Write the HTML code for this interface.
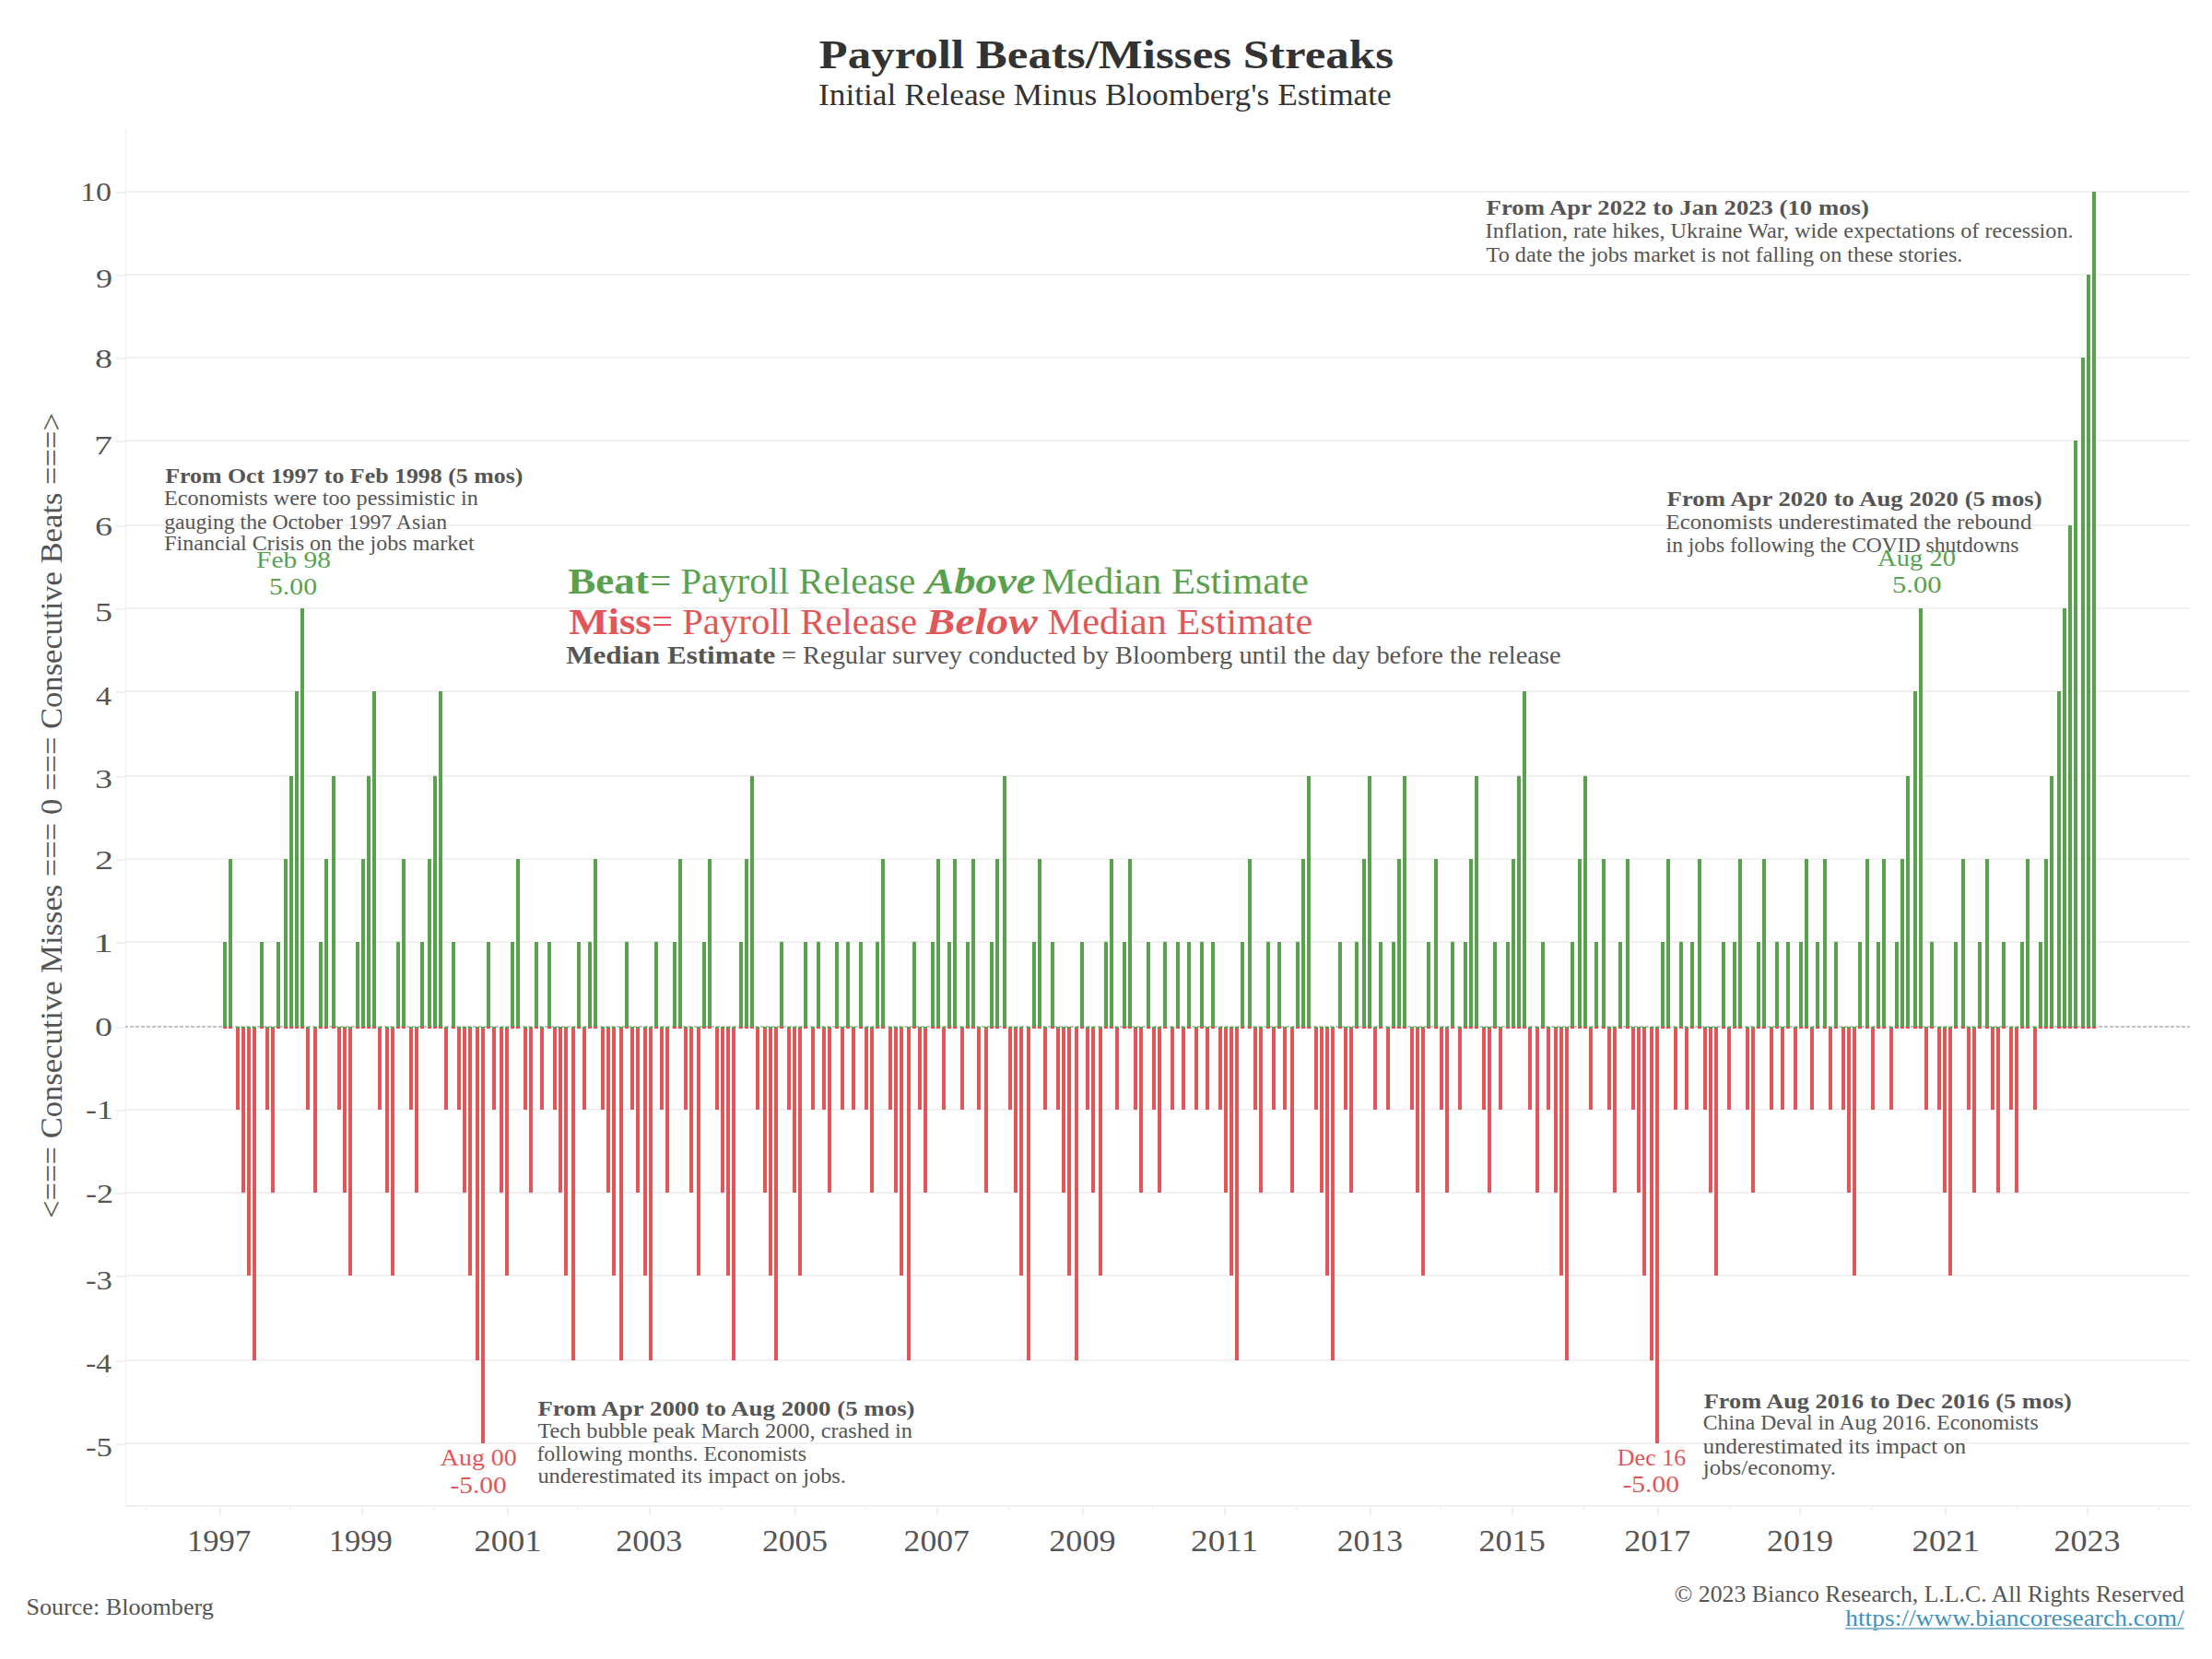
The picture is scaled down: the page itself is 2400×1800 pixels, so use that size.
<!DOCTYPE html><html><head><meta charset="utf-8"><title>Payroll Beats/Misses Streaks</title>
<style>html,body{margin:0;padding:0;background:#fff;}svg{display:block;}text{font-family:"Liberation Serif",serif;}</style></head><body>
<svg width="2400" height="1800" viewBox="0 0 2400 1800" shape-rendering="crispEdges">
<rect x="0" y="0" width="2400" height="1800" fill="#fff"/>
<rect x="136" y="1565" width="2240" height="2" fill="#F0F0F0"/>
<rect x="126" y="1566" width="10" height="2" fill="#F0F0F0"/>
<rect x="136" y="1475" width="2240" height="2" fill="#F0F0F0"/>
<rect x="126" y="1476" width="10" height="2" fill="#F0F0F0"/>
<rect x="136" y="1383" width="2240" height="2" fill="#F0F0F0"/>
<rect x="126" y="1384" width="10" height="2" fill="#F0F0F0"/>
<rect x="136" y="1293" width="2240" height="2" fill="#F0F0F0"/>
<rect x="126" y="1294" width="10" height="2" fill="#F0F0F0"/>
<rect x="136" y="1203" width="2240" height="2" fill="#F0F0F0"/>
<rect x="126" y="1204" width="10" height="2" fill="#F0F0F0"/>
<rect x="136" y="1021" width="2240" height="2" fill="#F0F0F0"/>
<rect x="126" y="1022" width="10" height="2" fill="#F0F0F0"/>
<rect x="136" y="931" width="2240" height="2" fill="#F0F0F0"/>
<rect x="126" y="932" width="10" height="2" fill="#F0F0F0"/>
<rect x="136" y="841" width="2240" height="2" fill="#F0F0F0"/>
<rect x="126" y="842" width="10" height="2" fill="#F0F0F0"/>
<rect x="136" y="749" width="2240" height="2" fill="#F0F0F0"/>
<rect x="126" y="750" width="10" height="2" fill="#F0F0F0"/>
<rect x="136" y="659" width="2240" height="2" fill="#F0F0F0"/>
<rect x="126" y="660" width="10" height="2" fill="#F0F0F0"/>
<rect x="136" y="569" width="2240" height="2" fill="#F0F0F0"/>
<rect x="126" y="570" width="10" height="2" fill="#F0F0F0"/>
<rect x="136" y="477" width="2240" height="2" fill="#F0F0F0"/>
<rect x="126" y="478" width="10" height="2" fill="#F0F0F0"/>
<rect x="136" y="387" width="2240" height="2" fill="#F0F0F0"/>
<rect x="126" y="388" width="10" height="2" fill="#F0F0F0"/>
<rect x="136" y="297" width="2240" height="2" fill="#F0F0F0"/>
<rect x="126" y="298" width="10" height="2" fill="#F0F0F0"/>
<rect x="136" y="207" width="2240" height="2" fill="#F0F0F0"/>
<rect x="126" y="208" width="10" height="2" fill="#F0F0F0"/>
<rect x="126" y="1114" width="10" height="2" fill="#F0F0F0"/>
<rect x="136" y="140" width="1" height="1495" fill="#F0F0F0"/>
<rect x="136" y="1633" width="2241" height="2" fill="#F0F0F0"/>
<rect x="158" y="1636" width="2" height="2" fill="#F0F0F0"/>
<rect x="238" y="1636" width="2" height="8" fill="#F0F0F0"/>
<rect x="314" y="1636" width="2" height="2" fill="#F0F0F0"/>
<rect x="392" y="1636" width="2" height="8" fill="#F0F0F0"/>
<rect x="470" y="1636" width="2" height="2" fill="#F0F0F0"/>
<rect x="550" y="1636" width="2" height="8" fill="#F0F0F0"/>
<rect x="626" y="1636" width="2" height="2" fill="#F0F0F0"/>
<rect x="704" y="1636" width="2" height="8" fill="#F0F0F0"/>
<rect x="782" y="1636" width="2" height="2" fill="#F0F0F0"/>
<rect x="862" y="1636" width="2" height="8" fill="#F0F0F0"/>
<rect x="938" y="1636" width="2" height="2" fill="#F0F0F0"/>
<rect x="1016" y="1636" width="2" height="8" fill="#F0F0F0"/>
<rect x="1094" y="1636" width="2" height="2" fill="#F0F0F0"/>
<rect x="1174" y="1636" width="2" height="8" fill="#F0F0F0"/>
<rect x="1250" y="1636" width="2" height="2" fill="#F0F0F0"/>
<rect x="1328" y="1636" width="2" height="8" fill="#F0F0F0"/>
<rect x="1406" y="1636" width="2" height="2" fill="#F0F0F0"/>
<rect x="1486" y="1636" width="2" height="8" fill="#F0F0F0"/>
<rect x="1562" y="1636" width="2" height="2" fill="#F0F0F0"/>
<rect x="1640" y="1636" width="2" height="8" fill="#F0F0F0"/>
<rect x="1718" y="1636" width="2" height="2" fill="#F0F0F0"/>
<rect x="1798" y="1636" width="2" height="8" fill="#F0F0F0"/>
<rect x="1876" y="1636" width="2" height="2" fill="#F0F0F0"/>
<rect x="1952" y="1636" width="2" height="8" fill="#F0F0F0"/>
<rect x="2030" y="1636" width="2" height="2" fill="#F0F0F0"/>
<rect x="2110" y="1636" width="2" height="8" fill="#F0F0F0"/>
<rect x="2188" y="1636" width="2" height="2" fill="#F0F0F0"/>
<rect x="2264" y="1636" width="2" height="8" fill="#F0F0F0"/>
<rect x="2342" y="1636" width="2" height="2" fill="#F0F0F0"/>
<line x1="136" y1="1114" x2="2376" y2="1114" stroke="#C4C4C4" stroke-width="2" stroke-dasharray="4 2" stroke-dashoffset="1"/>
<rect x="242" y="1022" width="4" height="92" fill="#59A14F"/>
<rect x="242" y="1114" width="4" height="2" fill="#E44A50"/>
<rect x="248" y="932" width="4" height="182" fill="#59A14F"/>
<rect x="248" y="1114" width="4" height="2" fill="#E44A50"/>
<rect x="256" y="1114" width="4" height="2" fill="#50A34B"/>
<rect x="256" y="1116" width="4" height="88" fill="#E15759"/>
<rect x="262" y="1114" width="4" height="2" fill="#50A34B"/>
<rect x="262" y="1116" width="4" height="178" fill="#E15759"/>
<rect x="268" y="1114" width="4" height="2" fill="#50A34B"/>
<rect x="268" y="1116" width="4" height="268" fill="#E15759"/>
<rect x="274" y="1114" width="4" height="2" fill="#50A34B"/>
<rect x="274" y="1116" width="4" height="360" fill="#E15759"/>
<rect x="282" y="1022" width="4" height="92" fill="#59A14F"/>
<rect x="282" y="1114" width="4" height="2" fill="#E44A50"/>
<rect x="288" y="1114" width="4" height="2" fill="#50A34B"/>
<rect x="288" y="1116" width="4" height="88" fill="#E15759"/>
<rect x="294" y="1114" width="4" height="2" fill="#50A34B"/>
<rect x="294" y="1116" width="4" height="178" fill="#E15759"/>
<rect x="300" y="1022" width="4" height="92" fill="#59A14F"/>
<rect x="300" y="1114" width="4" height="2" fill="#E44A50"/>
<rect x="308" y="932" width="4" height="182" fill="#59A14F"/>
<rect x="308" y="1114" width="4" height="2" fill="#E44A50"/>
<rect x="314" y="842" width="4" height="272" fill="#59A14F"/>
<rect x="314" y="1114" width="4" height="2" fill="#E44A50"/>
<rect x="320" y="750" width="4" height="364" fill="#59A14F"/>
<rect x="320" y="1114" width="4" height="2" fill="#E44A50"/>
<rect x="326" y="660" width="4" height="454" fill="#59A14F"/>
<rect x="326" y="1114" width="4" height="2" fill="#E44A50"/>
<rect x="332" y="1114" width="4" height="2" fill="#50A34B"/>
<rect x="332" y="1116" width="4" height="88" fill="#E15759"/>
<rect x="340" y="1114" width="4" height="2" fill="#50A34B"/>
<rect x="340" y="1116" width="4" height="178" fill="#E15759"/>
<rect x="346" y="1022" width="4" height="92" fill="#59A14F"/>
<rect x="346" y="1114" width="4" height="2" fill="#E44A50"/>
<rect x="352" y="932" width="4" height="182" fill="#59A14F"/>
<rect x="352" y="1114" width="4" height="2" fill="#E44A50"/>
<rect x="360" y="842" width="4" height="272" fill="#59A14F"/>
<rect x="360" y="1114" width="4" height="2" fill="#E44A50"/>
<rect x="366" y="1114" width="4" height="2" fill="#50A34B"/>
<rect x="366" y="1116" width="4" height="88" fill="#E15759"/>
<rect x="372" y="1114" width="4" height="2" fill="#50A34B"/>
<rect x="372" y="1116" width="4" height="178" fill="#E15759"/>
<rect x="378" y="1114" width="4" height="2" fill="#50A34B"/>
<rect x="378" y="1116" width="4" height="268" fill="#E15759"/>
<rect x="386" y="1022" width="4" height="92" fill="#59A14F"/>
<rect x="386" y="1114" width="4" height="2" fill="#E44A50"/>
<rect x="392" y="932" width="4" height="182" fill="#59A14F"/>
<rect x="392" y="1114" width="4" height="2" fill="#E44A50"/>
<rect x="398" y="842" width="4" height="272" fill="#59A14F"/>
<rect x="398" y="1114" width="4" height="2" fill="#E44A50"/>
<rect x="404" y="750" width="4" height="364" fill="#59A14F"/>
<rect x="404" y="1114" width="4" height="2" fill="#E44A50"/>
<rect x="410" y="1114" width="4" height="2" fill="#50A34B"/>
<rect x="410" y="1116" width="4" height="88" fill="#E15759"/>
<rect x="418" y="1114" width="4" height="2" fill="#50A34B"/>
<rect x="418" y="1116" width="4" height="178" fill="#E15759"/>
<rect x="424" y="1114" width="4" height="2" fill="#50A34B"/>
<rect x="424" y="1116" width="4" height="268" fill="#E15759"/>
<rect x="430" y="1022" width="4" height="92" fill="#59A14F"/>
<rect x="430" y="1114" width="4" height="2" fill="#E44A50"/>
<rect x="436" y="932" width="4" height="182" fill="#59A14F"/>
<rect x="436" y="1114" width="4" height="2" fill="#E44A50"/>
<rect x="444" y="1114" width="4" height="2" fill="#50A34B"/>
<rect x="444" y="1116" width="4" height="88" fill="#E15759"/>
<rect x="450" y="1114" width="4" height="2" fill="#50A34B"/>
<rect x="450" y="1116" width="4" height="178" fill="#E15759"/>
<rect x="456" y="1022" width="4" height="92" fill="#59A14F"/>
<rect x="456" y="1114" width="4" height="2" fill="#E44A50"/>
<rect x="464" y="932" width="4" height="182" fill="#59A14F"/>
<rect x="464" y="1114" width="4" height="2" fill="#E44A50"/>
<rect x="470" y="842" width="4" height="272" fill="#59A14F"/>
<rect x="470" y="1114" width="4" height="2" fill="#E44A50"/>
<rect x="476" y="750" width="4" height="364" fill="#59A14F"/>
<rect x="476" y="1114" width="4" height="2" fill="#E44A50"/>
<rect x="482" y="1114" width="4" height="2" fill="#50A34B"/>
<rect x="482" y="1116" width="4" height="88" fill="#E15759"/>
<rect x="490" y="1022" width="4" height="92" fill="#59A14F"/>
<rect x="490" y="1114" width="4" height="2" fill="#E44A50"/>
<rect x="496" y="1114" width="4" height="2" fill="#50A34B"/>
<rect x="496" y="1116" width="4" height="88" fill="#E15759"/>
<rect x="502" y="1114" width="4" height="2" fill="#50A34B"/>
<rect x="502" y="1116" width="4" height="178" fill="#E15759"/>
<rect x="508" y="1114" width="4" height="2" fill="#50A34B"/>
<rect x="508" y="1116" width="4" height="268" fill="#E15759"/>
<rect x="516" y="1114" width="4" height="2" fill="#50A34B"/>
<rect x="516" y="1116" width="4" height="360" fill="#E15759"/>
<rect x="522" y="1114" width="4" height="2" fill="#50A34B"/>
<rect x="522" y="1116" width="4" height="450" fill="#E15759"/>
<rect x="528" y="1022" width="4" height="92" fill="#59A14F"/>
<rect x="528" y="1114" width="4" height="2" fill="#E44A50"/>
<rect x="534" y="1114" width="4" height="2" fill="#50A34B"/>
<rect x="534" y="1116" width="4" height="88" fill="#E15759"/>
<rect x="542" y="1114" width="4" height="2" fill="#50A34B"/>
<rect x="542" y="1116" width="4" height="178" fill="#E15759"/>
<rect x="548" y="1114" width="4" height="2" fill="#50A34B"/>
<rect x="548" y="1116" width="4" height="268" fill="#E15759"/>
<rect x="554" y="1022" width="4" height="92" fill="#59A14F"/>
<rect x="554" y="1114" width="4" height="2" fill="#E44A50"/>
<rect x="560" y="932" width="4" height="182" fill="#59A14F"/>
<rect x="560" y="1114" width="4" height="2" fill="#E44A50"/>
<rect x="568" y="1114" width="4" height="2" fill="#50A34B"/>
<rect x="568" y="1116" width="4" height="88" fill="#E15759"/>
<rect x="574" y="1114" width="4" height="2" fill="#50A34B"/>
<rect x="574" y="1116" width="4" height="178" fill="#E15759"/>
<rect x="580" y="1022" width="4" height="92" fill="#59A14F"/>
<rect x="580" y="1114" width="4" height="2" fill="#E44A50"/>
<rect x="586" y="1114" width="4" height="2" fill="#50A34B"/>
<rect x="586" y="1116" width="4" height="88" fill="#E15759"/>
<rect x="594" y="1022" width="4" height="92" fill="#59A14F"/>
<rect x="594" y="1114" width="4" height="2" fill="#E44A50"/>
<rect x="600" y="1114" width="4" height="2" fill="#50A34B"/>
<rect x="600" y="1116" width="4" height="88" fill="#E15759"/>
<rect x="606" y="1114" width="4" height="2" fill="#50A34B"/>
<rect x="606" y="1116" width="4" height="178" fill="#E15759"/>
<rect x="612" y="1114" width="4" height="2" fill="#50A34B"/>
<rect x="612" y="1116" width="4" height="268" fill="#E15759"/>
<rect x="620" y="1114" width="4" height="2" fill="#50A34B"/>
<rect x="620" y="1116" width="4" height="360" fill="#E15759"/>
<rect x="626" y="1022" width="4" height="92" fill="#59A14F"/>
<rect x="626" y="1114" width="4" height="2" fill="#E44A50"/>
<rect x="632" y="1114" width="4" height="2" fill="#50A34B"/>
<rect x="632" y="1116" width="4" height="88" fill="#E15759"/>
<rect x="638" y="1022" width="4" height="92" fill="#59A14F"/>
<rect x="638" y="1114" width="4" height="2" fill="#E44A50"/>
<rect x="644" y="932" width="4" height="182" fill="#59A14F"/>
<rect x="644" y="1114" width="4" height="2" fill="#E44A50"/>
<rect x="652" y="1114" width="4" height="2" fill="#50A34B"/>
<rect x="652" y="1116" width="4" height="88" fill="#E15759"/>
<rect x="658" y="1114" width="4" height="2" fill="#50A34B"/>
<rect x="658" y="1116" width="4" height="178" fill="#E15759"/>
<rect x="664" y="1114" width="4" height="2" fill="#50A34B"/>
<rect x="664" y="1116" width="4" height="268" fill="#E15759"/>
<rect x="672" y="1114" width="4" height="2" fill="#50A34B"/>
<rect x="672" y="1116" width="4" height="360" fill="#E15759"/>
<rect x="678" y="1022" width="4" height="92" fill="#59A14F"/>
<rect x="678" y="1114" width="4" height="2" fill="#E44A50"/>
<rect x="684" y="1114" width="4" height="2" fill="#50A34B"/>
<rect x="684" y="1116" width="4" height="88" fill="#E15759"/>
<rect x="690" y="1114" width="4" height="2" fill="#50A34B"/>
<rect x="690" y="1116" width="4" height="178" fill="#E15759"/>
<rect x="698" y="1114" width="4" height="2" fill="#50A34B"/>
<rect x="698" y="1116" width="4" height="268" fill="#E15759"/>
<rect x="704" y="1114" width="4" height="2" fill="#50A34B"/>
<rect x="704" y="1116" width="4" height="360" fill="#E15759"/>
<rect x="710" y="1022" width="4" height="92" fill="#59A14F"/>
<rect x="710" y="1114" width="4" height="2" fill="#E44A50"/>
<rect x="716" y="1114" width="4" height="2" fill="#50A34B"/>
<rect x="716" y="1116" width="4" height="88" fill="#E15759"/>
<rect x="722" y="1114" width="4" height="2" fill="#50A34B"/>
<rect x="722" y="1116" width="4" height="178" fill="#E15759"/>
<rect x="730" y="1022" width="4" height="92" fill="#59A14F"/>
<rect x="730" y="1114" width="4" height="2" fill="#E44A50"/>
<rect x="736" y="932" width="4" height="182" fill="#59A14F"/>
<rect x="736" y="1114" width="4" height="2" fill="#E44A50"/>
<rect x="742" y="1114" width="4" height="2" fill="#50A34B"/>
<rect x="742" y="1116" width="4" height="88" fill="#E15759"/>
<rect x="748" y="1114" width="4" height="2" fill="#50A34B"/>
<rect x="748" y="1116" width="4" height="178" fill="#E15759"/>
<rect x="756" y="1114" width="4" height="2" fill="#50A34B"/>
<rect x="756" y="1116" width="4" height="268" fill="#E15759"/>
<rect x="762" y="1022" width="4" height="92" fill="#59A14F"/>
<rect x="762" y="1114" width="4" height="2" fill="#E44A50"/>
<rect x="768" y="932" width="4" height="182" fill="#59A14F"/>
<rect x="768" y="1114" width="4" height="2" fill="#E44A50"/>
<rect x="776" y="1114" width="4" height="2" fill="#50A34B"/>
<rect x="776" y="1116" width="4" height="88" fill="#E15759"/>
<rect x="782" y="1114" width="4" height="2" fill="#50A34B"/>
<rect x="782" y="1116" width="4" height="178" fill="#E15759"/>
<rect x="788" y="1114" width="4" height="2" fill="#50A34B"/>
<rect x="788" y="1116" width="4" height="268" fill="#E15759"/>
<rect x="794" y="1114" width="4" height="2" fill="#50A34B"/>
<rect x="794" y="1116" width="4" height="360" fill="#E15759"/>
<rect x="802" y="1022" width="4" height="92" fill="#59A14F"/>
<rect x="802" y="1114" width="4" height="2" fill="#E44A50"/>
<rect x="808" y="932" width="4" height="182" fill="#59A14F"/>
<rect x="808" y="1114" width="4" height="2" fill="#E44A50"/>
<rect x="814" y="842" width="4" height="272" fill="#59A14F"/>
<rect x="814" y="1114" width="4" height="2" fill="#E44A50"/>
<rect x="820" y="1114" width="4" height="2" fill="#50A34B"/>
<rect x="820" y="1116" width="4" height="88" fill="#E15759"/>
<rect x="828" y="1114" width="4" height="2" fill="#50A34B"/>
<rect x="828" y="1116" width="4" height="178" fill="#E15759"/>
<rect x="834" y="1114" width="4" height="2" fill="#50A34B"/>
<rect x="834" y="1116" width="4" height="268" fill="#E15759"/>
<rect x="840" y="1114" width="4" height="2" fill="#50A34B"/>
<rect x="840" y="1116" width="4" height="360" fill="#E15759"/>
<rect x="846" y="1022" width="4" height="92" fill="#59A14F"/>
<rect x="846" y="1114" width="4" height="2" fill="#E44A50"/>
<rect x="854" y="1114" width="4" height="2" fill="#50A34B"/>
<rect x="854" y="1116" width="4" height="88" fill="#E15759"/>
<rect x="860" y="1114" width="4" height="2" fill="#50A34B"/>
<rect x="860" y="1116" width="4" height="178" fill="#E15759"/>
<rect x="866" y="1114" width="4" height="2" fill="#50A34B"/>
<rect x="866" y="1116" width="4" height="268" fill="#E15759"/>
<rect x="872" y="1022" width="4" height="92" fill="#59A14F"/>
<rect x="872" y="1114" width="4" height="2" fill="#E44A50"/>
<rect x="880" y="1114" width="4" height="2" fill="#50A34B"/>
<rect x="880" y="1116" width="4" height="88" fill="#E15759"/>
<rect x="886" y="1022" width="4" height="92" fill="#59A14F"/>
<rect x="886" y="1114" width="4" height="2" fill="#E44A50"/>
<rect x="892" y="1114" width="4" height="2" fill="#50A34B"/>
<rect x="892" y="1116" width="4" height="88" fill="#E15759"/>
<rect x="898" y="1114" width="4" height="2" fill="#50A34B"/>
<rect x="898" y="1116" width="4" height="178" fill="#E15759"/>
<rect x="906" y="1022" width="4" height="92" fill="#59A14F"/>
<rect x="906" y="1114" width="4" height="2" fill="#E44A50"/>
<rect x="912" y="1114" width="4" height="2" fill="#50A34B"/>
<rect x="912" y="1116" width="4" height="88" fill="#E15759"/>
<rect x="918" y="1022" width="4" height="92" fill="#59A14F"/>
<rect x="918" y="1114" width="4" height="2" fill="#E44A50"/>
<rect x="924" y="1114" width="4" height="2" fill="#50A34B"/>
<rect x="924" y="1116" width="4" height="88" fill="#E15759"/>
<rect x="932" y="1022" width="4" height="92" fill="#59A14F"/>
<rect x="932" y="1114" width="4" height="2" fill="#E44A50"/>
<rect x="938" y="1114" width="4" height="2" fill="#50A34B"/>
<rect x="938" y="1116" width="4" height="88" fill="#E15759"/>
<rect x="944" y="1114" width="4" height="2" fill="#50A34B"/>
<rect x="944" y="1116" width="4" height="178" fill="#E15759"/>
<rect x="950" y="1022" width="4" height="92" fill="#59A14F"/>
<rect x="950" y="1114" width="4" height="2" fill="#E44A50"/>
<rect x="956" y="932" width="4" height="182" fill="#59A14F"/>
<rect x="956" y="1114" width="4" height="2" fill="#E44A50"/>
<rect x="964" y="1114" width="4" height="2" fill="#50A34B"/>
<rect x="964" y="1116" width="4" height="88" fill="#E15759"/>
<rect x="970" y="1114" width="4" height="2" fill="#50A34B"/>
<rect x="970" y="1116" width="4" height="178" fill="#E15759"/>
<rect x="976" y="1114" width="4" height="2" fill="#50A34B"/>
<rect x="976" y="1116" width="4" height="268" fill="#E15759"/>
<rect x="984" y="1114" width="4" height="2" fill="#50A34B"/>
<rect x="984" y="1116" width="4" height="360" fill="#E15759"/>
<rect x="990" y="1022" width="4" height="92" fill="#59A14F"/>
<rect x="990" y="1114" width="4" height="2" fill="#E44A50"/>
<rect x="996" y="1114" width="4" height="2" fill="#50A34B"/>
<rect x="996" y="1116" width="4" height="88" fill="#E15759"/>
<rect x="1002" y="1114" width="4" height="2" fill="#50A34B"/>
<rect x="1002" y="1116" width="4" height="178" fill="#E15759"/>
<rect x="1010" y="1022" width="4" height="92" fill="#59A14F"/>
<rect x="1010" y="1114" width="4" height="2" fill="#E44A50"/>
<rect x="1016" y="932" width="4" height="182" fill="#59A14F"/>
<rect x="1016" y="1114" width="4" height="2" fill="#E44A50"/>
<rect x="1022" y="1114" width="4" height="2" fill="#50A34B"/>
<rect x="1022" y="1116" width="4" height="88" fill="#E15759"/>
<rect x="1028" y="1022" width="4" height="92" fill="#59A14F"/>
<rect x="1028" y="1114" width="4" height="2" fill="#E44A50"/>
<rect x="1034" y="932" width="4" height="182" fill="#59A14F"/>
<rect x="1034" y="1114" width="4" height="2" fill="#E44A50"/>
<rect x="1042" y="1114" width="4" height="2" fill="#50A34B"/>
<rect x="1042" y="1116" width="4" height="88" fill="#E15759"/>
<rect x="1048" y="1022" width="4" height="92" fill="#59A14F"/>
<rect x="1048" y="1114" width="4" height="2" fill="#E44A50"/>
<rect x="1054" y="932" width="4" height="182" fill="#59A14F"/>
<rect x="1054" y="1114" width="4" height="2" fill="#E44A50"/>
<rect x="1060" y="1114" width="4" height="2" fill="#50A34B"/>
<rect x="1060" y="1116" width="4" height="88" fill="#E15759"/>
<rect x="1068" y="1114" width="4" height="2" fill="#50A34B"/>
<rect x="1068" y="1116" width="4" height="178" fill="#E15759"/>
<rect x="1074" y="1022" width="4" height="92" fill="#59A14F"/>
<rect x="1074" y="1114" width="4" height="2" fill="#E44A50"/>
<rect x="1080" y="932" width="4" height="182" fill="#59A14F"/>
<rect x="1080" y="1114" width="4" height="2" fill="#E44A50"/>
<rect x="1088" y="842" width="4" height="272" fill="#59A14F"/>
<rect x="1088" y="1114" width="4" height="2" fill="#E44A50"/>
<rect x="1094" y="1114" width="4" height="2" fill="#50A34B"/>
<rect x="1094" y="1116" width="4" height="88" fill="#E15759"/>
<rect x="1100" y="1114" width="4" height="2" fill="#50A34B"/>
<rect x="1100" y="1116" width="4" height="178" fill="#E15759"/>
<rect x="1106" y="1114" width="4" height="2" fill="#50A34B"/>
<rect x="1106" y="1116" width="4" height="268" fill="#E15759"/>
<rect x="1114" y="1114" width="4" height="2" fill="#50A34B"/>
<rect x="1114" y="1116" width="4" height="360" fill="#E15759"/>
<rect x="1120" y="1022" width="4" height="92" fill="#59A14F"/>
<rect x="1120" y="1114" width="4" height="2" fill="#E44A50"/>
<rect x="1126" y="932" width="4" height="182" fill="#59A14F"/>
<rect x="1126" y="1114" width="4" height="2" fill="#E44A50"/>
<rect x="1132" y="1114" width="4" height="2" fill="#50A34B"/>
<rect x="1132" y="1116" width="4" height="88" fill="#E15759"/>
<rect x="1140" y="1022" width="4" height="92" fill="#59A14F"/>
<rect x="1140" y="1114" width="4" height="2" fill="#E44A50"/>
<rect x="1146" y="1114" width="4" height="2" fill="#50A34B"/>
<rect x="1146" y="1116" width="4" height="88" fill="#E15759"/>
<rect x="1152" y="1114" width="4" height="2" fill="#50A34B"/>
<rect x="1152" y="1116" width="4" height="178" fill="#E15759"/>
<rect x="1158" y="1114" width="4" height="2" fill="#50A34B"/>
<rect x="1158" y="1116" width="4" height="268" fill="#E15759"/>
<rect x="1166" y="1114" width="4" height="2" fill="#50A34B"/>
<rect x="1166" y="1116" width="4" height="360" fill="#E15759"/>
<rect x="1172" y="1022" width="4" height="92" fill="#59A14F"/>
<rect x="1172" y="1114" width="4" height="2" fill="#E44A50"/>
<rect x="1178" y="1114" width="4" height="2" fill="#50A34B"/>
<rect x="1178" y="1116" width="4" height="88" fill="#E15759"/>
<rect x="1184" y="1114" width="4" height="2" fill="#50A34B"/>
<rect x="1184" y="1116" width="4" height="178" fill="#E15759"/>
<rect x="1192" y="1114" width="4" height="2" fill="#50A34B"/>
<rect x="1192" y="1116" width="4" height="268" fill="#E15759"/>
<rect x="1198" y="1022" width="4" height="92" fill="#59A14F"/>
<rect x="1198" y="1114" width="4" height="2" fill="#E44A50"/>
<rect x="1204" y="932" width="4" height="182" fill="#59A14F"/>
<rect x="1204" y="1114" width="4" height="2" fill="#E44A50"/>
<rect x="1210" y="1114" width="4" height="2" fill="#50A34B"/>
<rect x="1210" y="1116" width="4" height="88" fill="#E15759"/>
<rect x="1218" y="1022" width="4" height="92" fill="#59A14F"/>
<rect x="1218" y="1114" width="4" height="2" fill="#E44A50"/>
<rect x="1224" y="932" width="4" height="182" fill="#59A14F"/>
<rect x="1224" y="1114" width="4" height="2" fill="#E44A50"/>
<rect x="1230" y="1114" width="4" height="2" fill="#50A34B"/>
<rect x="1230" y="1116" width="4" height="88" fill="#E15759"/>
<rect x="1236" y="1114" width="4" height="2" fill="#50A34B"/>
<rect x="1236" y="1116" width="4" height="178" fill="#E15759"/>
<rect x="1244" y="1022" width="4" height="92" fill="#59A14F"/>
<rect x="1244" y="1114" width="4" height="2" fill="#E44A50"/>
<rect x="1250" y="1114" width="4" height="2" fill="#50A34B"/>
<rect x="1250" y="1116" width="4" height="88" fill="#E15759"/>
<rect x="1256" y="1114" width="4" height="2" fill="#50A34B"/>
<rect x="1256" y="1116" width="4" height="178" fill="#E15759"/>
<rect x="1262" y="1022" width="4" height="92" fill="#59A14F"/>
<rect x="1262" y="1114" width="4" height="2" fill="#E44A50"/>
<rect x="1270" y="1114" width="4" height="2" fill="#50A34B"/>
<rect x="1270" y="1116" width="4" height="88" fill="#E15759"/>
<rect x="1276" y="1022" width="4" height="92" fill="#59A14F"/>
<rect x="1276" y="1114" width="4" height="2" fill="#E44A50"/>
<rect x="1282" y="1114" width="4" height="2" fill="#50A34B"/>
<rect x="1282" y="1116" width="4" height="88" fill="#E15759"/>
<rect x="1288" y="1022" width="4" height="92" fill="#59A14F"/>
<rect x="1288" y="1114" width="4" height="2" fill="#E44A50"/>
<rect x="1296" y="1114" width="4" height="2" fill="#50A34B"/>
<rect x="1296" y="1116" width="4" height="88" fill="#E15759"/>
<rect x="1302" y="1022" width="4" height="92" fill="#59A14F"/>
<rect x="1302" y="1114" width="4" height="2" fill="#E44A50"/>
<rect x="1308" y="1114" width="4" height="2" fill="#50A34B"/>
<rect x="1308" y="1116" width="4" height="88" fill="#E15759"/>
<rect x="1314" y="1022" width="4" height="92" fill="#59A14F"/>
<rect x="1314" y="1114" width="4" height="2" fill="#E44A50"/>
<rect x="1322" y="1114" width="4" height="2" fill="#50A34B"/>
<rect x="1322" y="1116" width="4" height="88" fill="#E15759"/>
<rect x="1328" y="1114" width="4" height="2" fill="#50A34B"/>
<rect x="1328" y="1116" width="4" height="178" fill="#E15759"/>
<rect x="1334" y="1114" width="4" height="2" fill="#50A34B"/>
<rect x="1334" y="1116" width="4" height="268" fill="#E15759"/>
<rect x="1340" y="1114" width="4" height="2" fill="#50A34B"/>
<rect x="1340" y="1116" width="4" height="360" fill="#E15759"/>
<rect x="1346" y="1022" width="4" height="92" fill="#59A14F"/>
<rect x="1346" y="1114" width="4" height="2" fill="#E44A50"/>
<rect x="1354" y="932" width="4" height="182" fill="#59A14F"/>
<rect x="1354" y="1114" width="4" height="2" fill="#E44A50"/>
<rect x="1360" y="1114" width="4" height="2" fill="#50A34B"/>
<rect x="1360" y="1116" width="4" height="88" fill="#E15759"/>
<rect x="1366" y="1114" width="4" height="2" fill="#50A34B"/>
<rect x="1366" y="1116" width="4" height="178" fill="#E15759"/>
<rect x="1374" y="1022" width="4" height="92" fill="#59A14F"/>
<rect x="1374" y="1114" width="4" height="2" fill="#E44A50"/>
<rect x="1380" y="1114" width="4" height="2" fill="#50A34B"/>
<rect x="1380" y="1116" width="4" height="88" fill="#E15759"/>
<rect x="1386" y="1022" width="4" height="92" fill="#59A14F"/>
<rect x="1386" y="1114" width="4" height="2" fill="#E44A50"/>
<rect x="1392" y="1114" width="4" height="2" fill="#50A34B"/>
<rect x="1392" y="1116" width="4" height="88" fill="#E15759"/>
<rect x="1400" y="1114" width="4" height="2" fill="#50A34B"/>
<rect x="1400" y="1116" width="4" height="178" fill="#E15759"/>
<rect x="1406" y="1022" width="4" height="92" fill="#59A14F"/>
<rect x="1406" y="1114" width="4" height="2" fill="#E44A50"/>
<rect x="1412" y="932" width="4" height="182" fill="#59A14F"/>
<rect x="1412" y="1114" width="4" height="2" fill="#E44A50"/>
<rect x="1418" y="842" width="4" height="272" fill="#59A14F"/>
<rect x="1418" y="1114" width="4" height="2" fill="#E44A50"/>
<rect x="1426" y="1114" width="4" height="2" fill="#50A34B"/>
<rect x="1426" y="1116" width="4" height="88" fill="#E15759"/>
<rect x="1432" y="1114" width="4" height="2" fill="#50A34B"/>
<rect x="1432" y="1116" width="4" height="178" fill="#E15759"/>
<rect x="1438" y="1114" width="4" height="2" fill="#50A34B"/>
<rect x="1438" y="1116" width="4" height="268" fill="#E15759"/>
<rect x="1444" y="1114" width="4" height="2" fill="#50A34B"/>
<rect x="1444" y="1116" width="4" height="360" fill="#E15759"/>
<rect x="1452" y="1022" width="4" height="92" fill="#59A14F"/>
<rect x="1452" y="1114" width="4" height="2" fill="#E44A50"/>
<rect x="1458" y="1114" width="4" height="2" fill="#50A34B"/>
<rect x="1458" y="1116" width="4" height="88" fill="#E15759"/>
<rect x="1464" y="1114" width="4" height="2" fill="#50A34B"/>
<rect x="1464" y="1116" width="4" height="178" fill="#E15759"/>
<rect x="1470" y="1022" width="4" height="92" fill="#59A14F"/>
<rect x="1470" y="1114" width="4" height="2" fill="#E44A50"/>
<rect x="1478" y="932" width="4" height="182" fill="#59A14F"/>
<rect x="1478" y="1114" width="4" height="2" fill="#E44A50"/>
<rect x="1484" y="842" width="4" height="272" fill="#59A14F"/>
<rect x="1484" y="1114" width="4" height="2" fill="#E44A50"/>
<rect x="1490" y="1114" width="4" height="2" fill="#50A34B"/>
<rect x="1490" y="1116" width="4" height="88" fill="#E15759"/>
<rect x="1496" y="1022" width="4" height="92" fill="#59A14F"/>
<rect x="1496" y="1114" width="4" height="2" fill="#E44A50"/>
<rect x="1504" y="1114" width="4" height="2" fill="#50A34B"/>
<rect x="1504" y="1116" width="4" height="88" fill="#E15759"/>
<rect x="1510" y="1022" width="4" height="92" fill="#59A14F"/>
<rect x="1510" y="1114" width="4" height="2" fill="#E44A50"/>
<rect x="1516" y="932" width="4" height="182" fill="#59A14F"/>
<rect x="1516" y="1114" width="4" height="2" fill="#E44A50"/>
<rect x="1522" y="842" width="4" height="272" fill="#59A14F"/>
<rect x="1522" y="1114" width="4" height="2" fill="#E44A50"/>
<rect x="1530" y="1114" width="4" height="2" fill="#50A34B"/>
<rect x="1530" y="1116" width="4" height="88" fill="#E15759"/>
<rect x="1536" y="1114" width="4" height="2" fill="#50A34B"/>
<rect x="1536" y="1116" width="4" height="178" fill="#E15759"/>
<rect x="1542" y="1114" width="4" height="2" fill="#50A34B"/>
<rect x="1542" y="1116" width="4" height="268" fill="#E15759"/>
<rect x="1548" y="1022" width="4" height="92" fill="#59A14F"/>
<rect x="1548" y="1114" width="4" height="2" fill="#E44A50"/>
<rect x="1556" y="932" width="4" height="182" fill="#59A14F"/>
<rect x="1556" y="1114" width="4" height="2" fill="#E44A50"/>
<rect x="1562" y="1114" width="4" height="2" fill="#50A34B"/>
<rect x="1562" y="1116" width="4" height="88" fill="#E15759"/>
<rect x="1568" y="1114" width="4" height="2" fill="#50A34B"/>
<rect x="1568" y="1116" width="4" height="178" fill="#E15759"/>
<rect x="1574" y="1022" width="4" height="92" fill="#59A14F"/>
<rect x="1574" y="1114" width="4" height="2" fill="#E44A50"/>
<rect x="1582" y="1114" width="4" height="2" fill="#50A34B"/>
<rect x="1582" y="1116" width="4" height="88" fill="#E15759"/>
<rect x="1588" y="1022" width="4" height="92" fill="#59A14F"/>
<rect x="1588" y="1114" width="4" height="2" fill="#E44A50"/>
<rect x="1594" y="932" width="4" height="182" fill="#59A14F"/>
<rect x="1594" y="1114" width="4" height="2" fill="#E44A50"/>
<rect x="1600" y="842" width="4" height="272" fill="#59A14F"/>
<rect x="1600" y="1114" width="4" height="2" fill="#E44A50"/>
<rect x="1608" y="1114" width="4" height="2" fill="#50A34B"/>
<rect x="1608" y="1116" width="4" height="88" fill="#E15759"/>
<rect x="1614" y="1114" width="4" height="2" fill="#50A34B"/>
<rect x="1614" y="1116" width="4" height="178" fill="#E15759"/>
<rect x="1620" y="1022" width="4" height="92" fill="#59A14F"/>
<rect x="1620" y="1114" width="4" height="2" fill="#E44A50"/>
<rect x="1626" y="1114" width="4" height="2" fill="#50A34B"/>
<rect x="1626" y="1116" width="4" height="88" fill="#E15759"/>
<rect x="1634" y="1022" width="4" height="92" fill="#59A14F"/>
<rect x="1634" y="1114" width="4" height="2" fill="#E44A50"/>
<rect x="1640" y="932" width="4" height="182" fill="#59A14F"/>
<rect x="1640" y="1114" width="4" height="2" fill="#E44A50"/>
<rect x="1646" y="842" width="4" height="272" fill="#59A14F"/>
<rect x="1646" y="1114" width="4" height="2" fill="#E44A50"/>
<rect x="1652" y="750" width="4" height="364" fill="#59A14F"/>
<rect x="1652" y="1114" width="4" height="2" fill="#E44A50"/>
<rect x="1658" y="1114" width="4" height="2" fill="#50A34B"/>
<rect x="1658" y="1116" width="4" height="88" fill="#E15759"/>
<rect x="1666" y="1114" width="4" height="2" fill="#50A34B"/>
<rect x="1666" y="1116" width="4" height="178" fill="#E15759"/>
<rect x="1672" y="1022" width="4" height="92" fill="#59A14F"/>
<rect x="1672" y="1114" width="4" height="2" fill="#E44A50"/>
<rect x="1678" y="1114" width="4" height="2" fill="#50A34B"/>
<rect x="1678" y="1116" width="4" height="88" fill="#E15759"/>
<rect x="1686" y="1114" width="4" height="2" fill="#50A34B"/>
<rect x="1686" y="1116" width="4" height="178" fill="#E15759"/>
<rect x="1692" y="1114" width="4" height="2" fill="#50A34B"/>
<rect x="1692" y="1116" width="4" height="268" fill="#E15759"/>
<rect x="1698" y="1114" width="4" height="2" fill="#50A34B"/>
<rect x="1698" y="1116" width="4" height="360" fill="#E15759"/>
<rect x="1704" y="1022" width="4" height="92" fill="#59A14F"/>
<rect x="1704" y="1114" width="4" height="2" fill="#E44A50"/>
<rect x="1712" y="932" width="4" height="182" fill="#59A14F"/>
<rect x="1712" y="1114" width="4" height="2" fill="#E44A50"/>
<rect x="1718" y="842" width="4" height="272" fill="#59A14F"/>
<rect x="1718" y="1114" width="4" height="2" fill="#E44A50"/>
<rect x="1724" y="1114" width="4" height="2" fill="#50A34B"/>
<rect x="1724" y="1116" width="4" height="88" fill="#E15759"/>
<rect x="1730" y="1022" width="4" height="92" fill="#59A14F"/>
<rect x="1730" y="1114" width="4" height="2" fill="#E44A50"/>
<rect x="1738" y="932" width="4" height="182" fill="#59A14F"/>
<rect x="1738" y="1114" width="4" height="2" fill="#E44A50"/>
<rect x="1744" y="1114" width="4" height="2" fill="#50A34B"/>
<rect x="1744" y="1116" width="4" height="88" fill="#E15759"/>
<rect x="1750" y="1114" width="4" height="2" fill="#50A34B"/>
<rect x="1750" y="1116" width="4" height="178" fill="#E15759"/>
<rect x="1756" y="1022" width="4" height="92" fill="#59A14F"/>
<rect x="1756" y="1114" width="4" height="2" fill="#E44A50"/>
<rect x="1764" y="932" width="4" height="182" fill="#59A14F"/>
<rect x="1764" y="1114" width="4" height="2" fill="#E44A50"/>
<rect x="1770" y="1114" width="4" height="2" fill="#50A34B"/>
<rect x="1770" y="1116" width="4" height="88" fill="#E15759"/>
<rect x="1776" y="1114" width="4" height="2" fill="#50A34B"/>
<rect x="1776" y="1116" width="4" height="178" fill="#E15759"/>
<rect x="1782" y="1114" width="4" height="2" fill="#50A34B"/>
<rect x="1782" y="1116" width="4" height="268" fill="#E15759"/>
<rect x="1790" y="1114" width="4" height="2" fill="#50A34B"/>
<rect x="1790" y="1116" width="4" height="360" fill="#E15759"/>
<rect x="1796" y="1114" width="4" height="2" fill="#50A34B"/>
<rect x="1796" y="1116" width="4" height="450" fill="#E15759"/>
<rect x="1802" y="1022" width="4" height="92" fill="#59A14F"/>
<rect x="1802" y="1114" width="4" height="2" fill="#E44A50"/>
<rect x="1808" y="932" width="4" height="182" fill="#59A14F"/>
<rect x="1808" y="1114" width="4" height="2" fill="#E44A50"/>
<rect x="1816" y="1114" width="4" height="2" fill="#50A34B"/>
<rect x="1816" y="1116" width="4" height="88" fill="#E15759"/>
<rect x="1822" y="1022" width="4" height="92" fill="#59A14F"/>
<rect x="1822" y="1114" width="4" height="2" fill="#E44A50"/>
<rect x="1828" y="1114" width="4" height="2" fill="#50A34B"/>
<rect x="1828" y="1116" width="4" height="88" fill="#E15759"/>
<rect x="1834" y="1022" width="4" height="92" fill="#59A14F"/>
<rect x="1834" y="1114" width="4" height="2" fill="#E44A50"/>
<rect x="1842" y="932" width="4" height="182" fill="#59A14F"/>
<rect x="1842" y="1114" width="4" height="2" fill="#E44A50"/>
<rect x="1848" y="1114" width="4" height="2" fill="#50A34B"/>
<rect x="1848" y="1116" width="4" height="88" fill="#E15759"/>
<rect x="1854" y="1114" width="4" height="2" fill="#50A34B"/>
<rect x="1854" y="1116" width="4" height="178" fill="#E15759"/>
<rect x="1860" y="1114" width="4" height="2" fill="#50A34B"/>
<rect x="1860" y="1116" width="4" height="268" fill="#E15759"/>
<rect x="1868" y="1022" width="4" height="92" fill="#59A14F"/>
<rect x="1868" y="1114" width="4" height="2" fill="#E44A50"/>
<rect x="1874" y="1114" width="4" height="2" fill="#50A34B"/>
<rect x="1874" y="1116" width="4" height="88" fill="#E15759"/>
<rect x="1880" y="1022" width="4" height="92" fill="#59A14F"/>
<rect x="1880" y="1114" width="4" height="2" fill="#E44A50"/>
<rect x="1886" y="932" width="4" height="182" fill="#59A14F"/>
<rect x="1886" y="1114" width="4" height="2" fill="#E44A50"/>
<rect x="1894" y="1114" width="4" height="2" fill="#50A34B"/>
<rect x="1894" y="1116" width="4" height="88" fill="#E15759"/>
<rect x="1900" y="1114" width="4" height="2" fill="#50A34B"/>
<rect x="1900" y="1116" width="4" height="178" fill="#E15759"/>
<rect x="1906" y="1022" width="4" height="92" fill="#59A14F"/>
<rect x="1906" y="1114" width="4" height="2" fill="#E44A50"/>
<rect x="1912" y="932" width="4" height="182" fill="#59A14F"/>
<rect x="1912" y="1114" width="4" height="2" fill="#E44A50"/>
<rect x="1920" y="1114" width="4" height="2" fill="#50A34B"/>
<rect x="1920" y="1116" width="4" height="88" fill="#E15759"/>
<rect x="1926" y="1022" width="4" height="92" fill="#59A14F"/>
<rect x="1926" y="1114" width="4" height="2" fill="#E44A50"/>
<rect x="1932" y="1114" width="4" height="2" fill="#50A34B"/>
<rect x="1932" y="1116" width="4" height="88" fill="#E15759"/>
<rect x="1938" y="1022" width="4" height="92" fill="#59A14F"/>
<rect x="1938" y="1114" width="4" height="2" fill="#E44A50"/>
<rect x="1946" y="1114" width="4" height="2" fill="#50A34B"/>
<rect x="1946" y="1116" width="4" height="88" fill="#E15759"/>
<rect x="1952" y="1022" width="4" height="92" fill="#59A14F"/>
<rect x="1952" y="1114" width="4" height="2" fill="#E44A50"/>
<rect x="1958" y="932" width="4" height="182" fill="#59A14F"/>
<rect x="1958" y="1114" width="4" height="2" fill="#E44A50"/>
<rect x="1964" y="1114" width="4" height="2" fill="#50A34B"/>
<rect x="1964" y="1116" width="4" height="88" fill="#E15759"/>
<rect x="1970" y="1022" width="4" height="92" fill="#59A14F"/>
<rect x="1970" y="1114" width="4" height="2" fill="#E44A50"/>
<rect x="1978" y="932" width="4" height="182" fill="#59A14F"/>
<rect x="1978" y="1114" width="4" height="2" fill="#E44A50"/>
<rect x="1984" y="1114" width="4" height="2" fill="#50A34B"/>
<rect x="1984" y="1116" width="4" height="88" fill="#E15759"/>
<rect x="1990" y="1022" width="4" height="92" fill="#59A14F"/>
<rect x="1990" y="1114" width="4" height="2" fill="#E44A50"/>
<rect x="1998" y="1114" width="4" height="2" fill="#50A34B"/>
<rect x="1998" y="1116" width="4" height="88" fill="#E15759"/>
<rect x="2004" y="1114" width="4" height="2" fill="#50A34B"/>
<rect x="2004" y="1116" width="4" height="178" fill="#E15759"/>
<rect x="2010" y="1114" width="4" height="2" fill="#50A34B"/>
<rect x="2010" y="1116" width="4" height="268" fill="#E15759"/>
<rect x="2016" y="1022" width="4" height="92" fill="#59A14F"/>
<rect x="2016" y="1114" width="4" height="2" fill="#E44A50"/>
<rect x="2024" y="932" width="4" height="182" fill="#59A14F"/>
<rect x="2024" y="1114" width="4" height="2" fill="#E44A50"/>
<rect x="2030" y="1114" width="4" height="2" fill="#50A34B"/>
<rect x="2030" y="1116" width="4" height="88" fill="#E15759"/>
<rect x="2036" y="1022" width="4" height="92" fill="#59A14F"/>
<rect x="2036" y="1114" width="4" height="2" fill="#E44A50"/>
<rect x="2042" y="932" width="4" height="182" fill="#59A14F"/>
<rect x="2042" y="1114" width="4" height="2" fill="#E44A50"/>
<rect x="2050" y="1114" width="4" height="2" fill="#50A34B"/>
<rect x="2050" y="1116" width="4" height="88" fill="#E15759"/>
<rect x="2056" y="1022" width="4" height="92" fill="#59A14F"/>
<rect x="2056" y="1114" width="4" height="2" fill="#E44A50"/>
<rect x="2062" y="932" width="4" height="182" fill="#59A14F"/>
<rect x="2062" y="1114" width="4" height="2" fill="#E44A50"/>
<rect x="2068" y="842" width="4" height="272" fill="#59A14F"/>
<rect x="2068" y="1114" width="4" height="2" fill="#E44A50"/>
<rect x="2076" y="750" width="4" height="364" fill="#59A14F"/>
<rect x="2076" y="1114" width="4" height="2" fill="#E44A50"/>
<rect x="2082" y="660" width="4" height="454" fill="#59A14F"/>
<rect x="2082" y="1114" width="4" height="2" fill="#E44A50"/>
<rect x="2088" y="1114" width="4" height="2" fill="#50A34B"/>
<rect x="2088" y="1116" width="4" height="88" fill="#E15759"/>
<rect x="2094" y="1022" width="4" height="92" fill="#59A14F"/>
<rect x="2094" y="1114" width="4" height="2" fill="#E44A50"/>
<rect x="2102" y="1114" width="4" height="2" fill="#50A34B"/>
<rect x="2102" y="1116" width="4" height="88" fill="#E15759"/>
<rect x="2108" y="1114" width="4" height="2" fill="#50A34B"/>
<rect x="2108" y="1116" width="4" height="178" fill="#E15759"/>
<rect x="2114" y="1114" width="4" height="2" fill="#50A34B"/>
<rect x="2114" y="1116" width="4" height="268" fill="#E15759"/>
<rect x="2120" y="1022" width="4" height="92" fill="#59A14F"/>
<rect x="2120" y="1114" width="4" height="2" fill="#E44A50"/>
<rect x="2128" y="932" width="4" height="182" fill="#59A14F"/>
<rect x="2128" y="1114" width="4" height="2" fill="#E44A50"/>
<rect x="2134" y="1114" width="4" height="2" fill="#50A34B"/>
<rect x="2134" y="1116" width="4" height="88" fill="#E15759"/>
<rect x="2140" y="1114" width="4" height="2" fill="#50A34B"/>
<rect x="2140" y="1116" width="4" height="178" fill="#E15759"/>
<rect x="2146" y="1022" width="4" height="92" fill="#59A14F"/>
<rect x="2146" y="1114" width="4" height="2" fill="#E44A50"/>
<rect x="2154" y="932" width="4" height="182" fill="#59A14F"/>
<rect x="2154" y="1114" width="4" height="2" fill="#E44A50"/>
<rect x="2160" y="1114" width="4" height="2" fill="#50A34B"/>
<rect x="2160" y="1116" width="4" height="88" fill="#E15759"/>
<rect x="2166" y="1114" width="4" height="2" fill="#50A34B"/>
<rect x="2166" y="1116" width="4" height="178" fill="#E15759"/>
<rect x="2172" y="1022" width="4" height="92" fill="#59A14F"/>
<rect x="2172" y="1114" width="4" height="2" fill="#E44A50"/>
<rect x="2180" y="1114" width="4" height="2" fill="#50A34B"/>
<rect x="2180" y="1116" width="4" height="88" fill="#E15759"/>
<rect x="2186" y="1114" width="4" height="2" fill="#50A34B"/>
<rect x="2186" y="1116" width="4" height="178" fill="#E15759"/>
<rect x="2192" y="1022" width="4" height="92" fill="#59A14F"/>
<rect x="2192" y="1114" width="4" height="2" fill="#E44A50"/>
<rect x="2198" y="932" width="4" height="182" fill="#59A14F"/>
<rect x="2198" y="1114" width="4" height="2" fill="#E44A50"/>
<rect x="2206" y="1114" width="4" height="2" fill="#50A34B"/>
<rect x="2206" y="1116" width="4" height="88" fill="#E15759"/>
<rect x="2212" y="1022" width="4" height="92" fill="#59A14F"/>
<rect x="2212" y="1114" width="4" height="2" fill="#E44A50"/>
<rect x="2218" y="932" width="4" height="182" fill="#59A14F"/>
<rect x="2218" y="1114" width="4" height="2" fill="#E44A50"/>
<rect x="2224" y="842" width="4" height="272" fill="#59A14F"/>
<rect x="2224" y="1114" width="4" height="2" fill="#E44A50"/>
<rect x="2232" y="750" width="4" height="364" fill="#59A14F"/>
<rect x="2232" y="1114" width="4" height="2" fill="#E44A50"/>
<rect x="2238" y="660" width="4" height="454" fill="#59A14F"/>
<rect x="2238" y="1114" width="4" height="2" fill="#E44A50"/>
<rect x="2244" y="570" width="4" height="544" fill="#59A14F"/>
<rect x="2244" y="1114" width="4" height="2" fill="#E44A50"/>
<rect x="2250" y="478" width="4" height="636" fill="#59A14F"/>
<rect x="2250" y="1114" width="4" height="2" fill="#E44A50"/>
<rect x="2258" y="388" width="4" height="726" fill="#59A14F"/>
<rect x="2258" y="1114" width="4" height="2" fill="#E44A50"/>
<rect x="2264" y="298" width="4" height="816" fill="#59A14F"/>
<rect x="2264" y="1114" width="4" height="2" fill="#E44A50"/>
<rect x="2270" y="208" width="4" height="906" fill="#59A14F"/>
<rect x="2270" y="1114" width="4" height="2" fill="#E44A50"/>
<g shape-rendering="geometricPrecision">
<text x="888.6" y="73.8" font-size="44" fill="#333333" font-weight="bold" textLength="623.4" lengthAdjust="spacingAndGlyphs" >Payroll Beats/Misses Streaks</text>
<text x="888.0" y="113.8" font-size="33" fill="#333333" textLength="621.8" lengthAdjust="spacingAndGlyphs" >Initial Release Minus Bloomberg's Estimate</text>
<text x="93.0" y="1579.5" font-size="30" fill="#555555" textLength="29.0" lengthAdjust="spacingAndGlyphs" >-5</text>
<text x="93.0" y="1489.0" font-size="30" fill="#555555" textLength="28.0" lengthAdjust="spacingAndGlyphs" >-4</text>
<text x="93.0" y="1398.5" font-size="30" fill="#555555" textLength="29.0" lengthAdjust="spacingAndGlyphs" >-3</text>
<text x="93.0" y="1304.9" font-size="30" fill="#555555" textLength="30.0" lengthAdjust="spacingAndGlyphs" >-2</text>
<text x="93.0" y="1214.3" font-size="30" fill="#555555" textLength="30.0" lengthAdjust="spacingAndGlyphs" >-1</text>
<text x="103.0" y="1123.8" font-size="30" fill="#555555" textLength="19.0" lengthAdjust="spacingAndGlyphs" >0</text>
<text x="101.0" y="1033.2" font-size="30" fill="#555555" textLength="22.0" lengthAdjust="spacingAndGlyphs" >1</text>
<text x="103.0" y="942.7" font-size="30" fill="#555555" textLength="20.0" lengthAdjust="spacingAndGlyphs" >2</text>
<text x="103.0" y="855.1" font-size="30" fill="#555555" textLength="19.0" lengthAdjust="spacingAndGlyphs" >3</text>
<text x="104.0" y="764.6" font-size="30" fill="#555555" textLength="17.0" lengthAdjust="spacingAndGlyphs" >4</text>
<text x="103.0" y="674.0" font-size="30" fill="#555555" textLength="19.0" lengthAdjust="spacingAndGlyphs" >5</text>
<text x="103.0" y="580.5" font-size="30" fill="#555555" textLength="19.0" lengthAdjust="spacingAndGlyphs" >6</text>
<text x="102.0" y="492.9" font-size="30" fill="#555555" textLength="20.0" lengthAdjust="spacingAndGlyphs" >7</text>
<text x="103.0" y="399.4" font-size="30" fill="#555555" textLength="19.0" lengthAdjust="spacingAndGlyphs" >8</text>
<text x="104.0" y="311.9" font-size="30" fill="#555555" textLength="18.0" lengthAdjust="spacingAndGlyphs" >9</text>
<text x="87.0" y="218.3" font-size="30" fill="#555555" textLength="34.0" lengthAdjust="spacingAndGlyphs" >10</text>
<text x="203.0" y="1683.0" font-size="33" fill="#555555" textLength="69.2" lengthAdjust="spacingAndGlyphs" >1997</text>
<text x="356.7" y="1683.0" font-size="33" fill="#555555" textLength="69.2" lengthAdjust="spacingAndGlyphs" >1999</text>
<text x="514.4" y="1683.0" font-size="33" fill="#555555" textLength="73.2" lengthAdjust="spacingAndGlyphs" >2001</text>
<text x="668.2" y="1683.0" font-size="33" fill="#555555" textLength="72.2" lengthAdjust="spacingAndGlyphs" >2003</text>
<text x="826.9" y="1683.0" font-size="33" fill="#555555" textLength="71.2" lengthAdjust="spacingAndGlyphs" >2005</text>
<text x="980.6" y="1683.0" font-size="33" fill="#555555" textLength="71.2" lengthAdjust="spacingAndGlyphs" >2007</text>
<text x="1138.3" y="1683.0" font-size="33" fill="#555555" textLength="72.2" lengthAdjust="spacingAndGlyphs" >2009</text>
<text x="1292.0" y="1683.0" font-size="33" fill="#555555" textLength="73.2" lengthAdjust="spacingAndGlyphs" >2011</text>
<text x="1450.8" y="1683.0" font-size="33" fill="#555555" textLength="71.2" lengthAdjust="spacingAndGlyphs" >2013</text>
<text x="1604.5" y="1683.0" font-size="33" fill="#555555" textLength="72.2" lengthAdjust="spacingAndGlyphs" >2015</text>
<text x="1762.2" y="1683.0" font-size="33" fill="#555555" textLength="72.2" lengthAdjust="spacingAndGlyphs" >2017</text>
<text x="1916.9" y="1683.0" font-size="33" fill="#555555" textLength="72.2" lengthAdjust="spacingAndGlyphs" >2019</text>
<text x="2074.6" y="1683.0" font-size="33" fill="#555555" textLength="73.2" lengthAdjust="spacingAndGlyphs" >2021</text>
<text x="2228.4" y="1683.0" font-size="33" fill="#555555" textLength="72.2" lengthAdjust="spacingAndGlyphs" >2023</text>
<text transform="translate(67,885) rotate(-90)" x="0" y="0" font-size="33" fill="#555555" text-anchor="middle" textLength="874" lengthAdjust="spacingAndGlyphs">&lt;=== Consecutive Misses === 0 === Consecutive Beats ===&gt;</text>
<text x="179.2" y="524.0" font-size="23" fill="#555555" font-weight="bold" textLength="388.2" lengthAdjust="spacingAndGlyphs" >From Oct 1997 to Feb 1998 (5 mos)</text>
<text x="178.0" y="547.7" font-size="23" fill="#555555" textLength="340.8" lengthAdjust="spacingAndGlyphs" >Economists were too pessimistic in</text>
<text x="178.2" y="573.5" font-size="23" fill="#555555" textLength="307.0" lengthAdjust="spacingAndGlyphs" >gauging the October 1997 Asian</text>
<text x="178.2" y="597.4" font-size="23" fill="#555555" textLength="336.4" lengthAdjust="spacingAndGlyphs" >Financial Crisis on the jobs market</text>
<text x="1612.6" y="233.2" font-size="23" fill="#555555" font-weight="bold" textLength="415.2" lengthAdjust="spacingAndGlyphs" >From Apr 2022 to Jan 2023 (10 mos)</text>
<text x="1611.6" y="257.9" font-size="23" fill="#555555" textLength="638.0" lengthAdjust="spacingAndGlyphs" >Inflation, rate hikes, Ukraine War, wide expectations of recession.</text>
<text x="1612.6" y="283.9" font-size="23" fill="#555555" textLength="516.8" lengthAdjust="spacingAndGlyphs" >To date the jobs market is not falling on these stories.</text>
<text x="1808.6" y="549.1" font-size="23" fill="#555555" font-weight="bold" textLength="407.0" lengthAdjust="spacingAndGlyphs" >From Apr 2020 to Aug 2020 (5 mos)</text>
<text x="1807.6" y="573.7" font-size="23" fill="#555555" textLength="396.8" lengthAdjust="spacingAndGlyphs" >Economists underestimated the rebound</text>
<text x="1807.6" y="599.0" font-size="23" fill="#555555" textLength="382.8" lengthAdjust="spacingAndGlyphs" >in jobs following the COVID shutdowns</text>
<text x="583.4" y="1536.1" font-size="23" fill="#555555" font-weight="bold" textLength="409.2" lengthAdjust="spacingAndGlyphs" >From Apr 2000 to Aug 2000 (5 mos)</text>
<text x="583.4" y="1559.8" font-size="23" fill="#555555" textLength="406.4" lengthAdjust="spacingAndGlyphs" >Tech bubble peak March 2000, crashed in</text>
<text x="582.4" y="1585.4" font-size="23" fill="#555555" textLength="292.6" lengthAdjust="spacingAndGlyphs" >following months. Economists</text>
<text x="583.4" y="1608.6" font-size="23" fill="#555555" textLength="334.6" lengthAdjust="spacingAndGlyphs" >underestimated its impact on jobs.</text>
<text x="1848.8" y="1527.8" font-size="23" fill="#555555" font-weight="bold" textLength="399.0" lengthAdjust="spacingAndGlyphs" >From Aug 2016 to Dec 2016 (5 mos)</text>
<text x="1847.8" y="1551.0" font-size="23" fill="#555555" textLength="363.8" lengthAdjust="spacingAndGlyphs" >China Deval in Aug 2016. Economists</text>
<text x="1847.8" y="1576.7" font-size="23" fill="#555555" textLength="285.4" lengthAdjust="spacingAndGlyphs" >underestimated its impact on</text>
<text x="1847.8" y="1599.9" font-size="23" fill="#555555" textLength="144.2" lengthAdjust="spacingAndGlyphs" >jobs/economy.</text>
<text x="278.0" y="615.7" font-size="26" fill="#59A14F" textLength="81.0" lengthAdjust="spacingAndGlyphs" >Feb 98</text>
<text x="292.0" y="645.0" font-size="26" fill="#59A14F" textLength="52.0" lengthAdjust="spacingAndGlyphs" >5.00</text>
<text x="2037.0" y="613.6" font-size="26" fill="#59A14F" textLength="85.0" lengthAdjust="spacingAndGlyphs" >Aug 20</text>
<text x="2053.0" y="642.7" font-size="26" fill="#59A14F" textLength="53.6" lengthAdjust="spacingAndGlyphs" >5.00</text>
<text x="477.8" y="1590.3" font-size="26" fill="#E15759" textLength="83.0" lengthAdjust="spacingAndGlyphs" >Aug 00</text>
<text x="488.4" y="1619.6" font-size="26" fill="#E15759" textLength="61.4" lengthAdjust="spacingAndGlyphs" >-5.00</text>
<text x="1754.8" y="1589.6" font-size="26" fill="#E15759" textLength="74.4" lengthAdjust="spacingAndGlyphs" >Dec 16</text>
<text x="1760.4" y="1618.9" font-size="26" fill="#E15759" textLength="61.6" lengthAdjust="spacingAndGlyphs" >-5.00</text>
<text x="616.2" y="643.8" font-size="39" fill="#59A14F" font-weight="bold" textLength="87.8" lengthAdjust="spacingAndGlyphs" >Beat</text>
<text x="705.2" y="643.8" font-size="39" fill="#59A14F" textLength="288.2" lengthAdjust="spacingAndGlyphs" >= Payroll Release</text>
<text x="1004.0" y="643.8" font-size="39" fill="#59A14F" font-weight="bold" font-style="italic" textLength="119.4" lengthAdjust="spacingAndGlyphs" >Above</text>
<text x="1130.2" y="643.8" font-size="39" fill="#59A14F" textLength="289.8" lengthAdjust="spacingAndGlyphs" >Median Estimate</text>
<text x="617.2" y="688.1" font-size="39" fill="#E15759" font-weight="bold" textLength="89.6" lengthAdjust="spacingAndGlyphs" >Miss</text>
<text x="707.0" y="688.1" font-size="39" fill="#E15759" textLength="288.0" lengthAdjust="spacingAndGlyphs" >= Payroll Release</text>
<text x="1004.8" y="688.1" font-size="39" fill="#E15759" font-weight="bold" font-style="italic" textLength="121.0" lengthAdjust="spacingAndGlyphs" >Below</text>
<text x="1136.6" y="688.1" font-size="39" fill="#E15759" textLength="287.8" lengthAdjust="spacingAndGlyphs" >Median Estimate</text>
<text x="614.2" y="719.7" font-size="26.5" fill="#555555" font-weight="bold" textLength="227.2" lengthAdjust="spacingAndGlyphs" >Median Estimate</text>
<text x="848.0" y="719.7" font-size="26.5" fill="#555555" textLength="845.6" lengthAdjust="spacingAndGlyphs" >= Regular survey conducted by Bloomberg until the day before the release</text>
<text x="28.4" y="1752.1" font-size="26" fill="#555555" textLength="203.4" lengthAdjust="spacingAndGlyphs" >Source: Bloomberg</text>
<text x="1816.8" y="1738.0" font-size="26" fill="#555555" textLength="553.0" lengthAdjust="spacingAndGlyphs" >&#169; 2023 Bianco Research, L.L.C. All Rights Reserved</text>
<text x="2002.2" y="1763.7" font-size="26" fill="#3F92BC" textLength="367.6" lengthAdjust="spacingAndGlyphs" >https://www.biancoresearch.com/</text>
</g>
<rect x="2002" y="1766" width="368" height="2" fill="#8DBBCE"/>
</svg></body></html>
